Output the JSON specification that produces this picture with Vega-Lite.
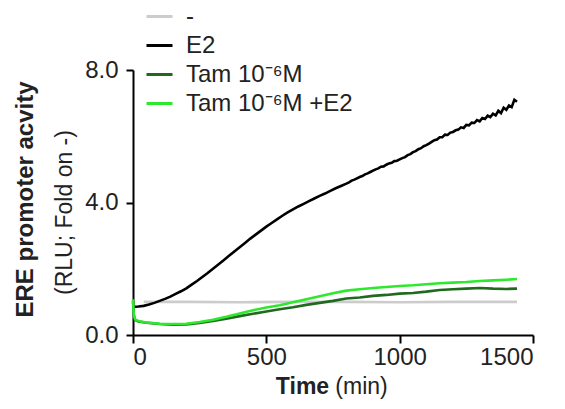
{
  "$schema": "https://vega.github.io/schema/vega-lite/v6.json",
  "width": 400,
  "height": 265,
  "autosize": {"type": "none"},
  "padding": {"left": 133, "top": 70, "right": 32, "bottom": 74},
  "config": {
    "font": "Liberation Sans",
    "view": {"stroke": null},
    "axis": {"grid": false}
  },
  "data": {
    "values": [
      {"s": "-", "t": 40, "v": 1.0}, {"s": "-", "t": 200, "v": 1.0}, {"s": "-", "t": 400, "v": 0.99}, {"s": "-", "t": 600, "v": 1.0}, {"s": "-", "t": 800, "v": 1.0}, {"s": "-", "t": 1000, "v": 0.99}, {"s": "-", "t": 1200, "v": 1.0}, {"s": "-", "t": 1440, "v": 1.0},
      {"s": "E2", "t": 0, "v": 0.85}, {"s": "E2", "t": 20, "v": 0.86}, {"s": "E2", "t": 40, "v": 0.88}, {"s": "E2", "t": 60, "v": 0.92}, {"s": "E2", "t": 80, "v": 0.97}, {"s": "E2", "t": 100, "v": 1.03}, {"s": "E2", "t": 120, "v": 1.09}, {"s": "E2", "t": 140, "v": 1.16}, {"s": "E2", "t": 160, "v": 1.24}, {"s": "E2", "t": 180, "v": 1.32}, {"s": "E2", "t": 200, "v": 1.41}, {"s": "E2", "t": 220, "v": 1.52}, {"s": "E2", "t": 240, "v": 1.63}, {"s": "E2", "t": 260, "v": 1.75}, {"s": "E2", "t": 280, "v": 1.87}, {"s": "E2", "t": 300, "v": 2.0}, {"s": "E2", "t": 320, "v": 2.13}, {"s": "E2", "t": 340, "v": 2.26}, {"s": "E2", "t": 360, "v": 2.39}, {"s": "E2", "t": 380, "v": 2.52}, {"s": "E2", "t": 400, "v": 2.65}, {"s": "E2", "t": 420, "v": 2.78}, {"s": "E2", "t": 440, "v": 2.91}, {"s": "E2", "t": 460, "v": 3.03}, {"s": "E2", "t": 480, "v": 3.15}, {"s": "E2", "t": 500, "v": 3.27}, {"s": "E2", "t": 520, "v": 3.38}, {"s": "E2", "t": 540, "v": 3.49}, {"s": "E2", "t": 560, "v": 3.6}, {"s": "E2", "t": 580, "v": 3.7}, {"s": "E2", "t": 600, "v": 3.79}, {"s": "E2", "t": 620, "v": 3.88}, {"s": "E2", "t": 640, "v": 3.96}, {"s": "E2", "t": 660, "v": 4.04}, {"s": "E2", "t": 680, "v": 4.12}, {"s": "E2", "t": 700, "v": 4.2}, {"s": "E2", "t": 720, "v": 4.27}, {"s": "E2", "t": 740, "v": 4.35}, {"s": "E2", "t": 760, "v": 4.43}, {"s": "E2", "t": 780, "v": 4.5},
      {"s": "E2", "t": 800, "v": 4.57}, {"s": "E2", "t": 810, "v": 4.61}, {"s": "E2", "t": 820, "v": 4.66}, {"s": "E2", "t": 830, "v": 4.69}, {"s": "E2", "t": 840, "v": 4.73}, {"s": "E2", "t": 850, "v": 4.77}, {"s": "E2", "t": 860, "v": 4.8}, {"s": "E2", "t": 870, "v": 4.85}, {"s": "E2", "t": 880, "v": 4.88}, {"s": "E2", "t": 890, "v": 4.92}, {"s": "E2", "t": 900, "v": 4.96}, {"s": "E2", "t": 910, "v": 5.0}, {"s": "E2", "t": 920, "v": 5.03}, {"s": "E2", "t": 930, "v": 5.08}, {"s": "E2", "t": 940, "v": 5.09}, {"s": "E2", "t": 950, "v": 5.14}, {"s": "E2", "t": 960, "v": 5.18}, {"s": "E2", "t": 970, "v": 5.2}, {"s": "E2", "t": 980, "v": 5.25}, {"s": "E2", "t": 990, "v": 5.26}, {"s": "E2", "t": 1000, "v": 5.3}, {"s": "E2", "t": 1010, "v": 5.34}, {"s": "E2", "t": 1020, "v": 5.37}, {"s": "E2", "t": 1030, "v": 5.43}, {"s": "E2", "t": 1040, "v": 5.46}, {"s": "E2", "t": 1050, "v": 5.52}, {"s": "E2", "t": 1060, "v": 5.55}, {"s": "E2", "t": 1070, "v": 5.61}, {"s": "E2", "t": 1080, "v": 5.64}, {"s": "E2", "t": 1090, "v": 5.7}, {"s": "E2", "t": 1100, "v": 5.73}, {"s": "E2", "t": 1110, "v": 5.78}, {"s": "E2", "t": 1120, "v": 5.83}, {"s": "E2", "t": 1130, "v": 5.88}, {"s": "E2", "t": 1140, "v": 5.9}, {"s": "E2", "t": 1150, "v": 5.97}, {"s": "E2", "t": 1160, "v": 5.97}, {"s": "E2", "t": 1170, "v": 6.05}, {"s": "E2", "t": 1180, "v": 6.04}, {"s": "E2", "t": 1190, "v": 6.11}, {"s": "E2", "t": 1200, "v": 6.13}, {"s": "E2", "t": 1210, "v": 6.18}, {"s": "E2", "t": 1220, "v": 6.2}, {"s": "E2", "t": 1230, "v": 6.27}, {"s": "E2", "t": 1240, "v": 6.25}, {"s": "E2", "t": 1250, "v": 6.34}, {"s": "E2", "t": 1260, "v": 6.33}, {"s": "E2", "t": 1270, "v": 6.41}, {"s": "E2", "t": 1280, "v": 6.4}, {"s": "E2", "t": 1290, "v": 6.49}, {"s": "E2", "t": 1300, "v": 6.45}, {"s": "E2", "t": 1310, "v": 6.55}, {"s": "E2", "t": 1320, "v": 6.52}, {"s": "E2", "t": 1330, "v": 6.62}, {"s": "E2", "t": 1340, "v": 6.58}, {"s": "E2", "t": 1350, "v": 6.68}, {"s": "E2", "t": 1360, "v": 6.63}, {"s": "E2", "t": 1370, "v": 6.77}, {"s": "E2", "t": 1380, "v": 6.7}, {"s": "E2", "t": 1390, "v": 6.86}, {"s": "E2", "t": 1400, "v": 6.8}, {"s": "E2", "t": 1410, "v": 6.93}, {"s": "E2", "t": 1420, "v": 6.88}, {"s": "E2", "t": 1430, "v": 7.1}, {"s": "E2", "t": 1440, "v": 7.04},
      {"s": "Tam 10⁻⁶M", "t": 0, "v": 1.02}, {"s": "Tam 10⁻⁶M", "t": 3, "v": 0.6}, {"s": "Tam 10⁻⁶M", "t": 8, "v": 0.45}, {"s": "Tam 10⁻⁶M", "t": 20, "v": 0.41}, {"s": "Tam 10⁻⁶M", "t": 50, "v": 0.37}, {"s": "Tam 10⁻⁶M", "t": 100, "v": 0.33}, {"s": "Tam 10⁻⁶M", "t": 150, "v": 0.31}, {"s": "Tam 10⁻⁶M", "t": 200, "v": 0.32}, {"s": "Tam 10⁻⁶M", "t": 250, "v": 0.36}, {"s": "Tam 10⁻⁶M", "t": 300, "v": 0.42}, {"s": "Tam 10⁻⁶M", "t": 350, "v": 0.49}, {"s": "Tam 10⁻⁶M", "t": 400, "v": 0.57}, {"s": "Tam 10⁻⁶M", "t": 450, "v": 0.64}, {"s": "Tam 10⁻⁶M", "t": 500, "v": 0.71}, {"s": "Tam 10⁻⁶M", "t": 550, "v": 0.78}, {"s": "Tam 10⁻⁶M", "t": 600, "v": 0.84}, {"s": "Tam 10⁻⁶M", "t": 650, "v": 0.91}, {"s": "Tam 10⁻⁶M", "t": 700, "v": 0.97}, {"s": "Tam 10⁻⁶M", "t": 750, "v": 1.03}, {"s": "Tam 10⁻⁶M", "t": 800, "v": 1.1}, {"s": "Tam 10⁻⁶M", "t": 850, "v": 1.13}, {"s": "Tam 10⁻⁶M", "t": 900, "v": 1.18}, {"s": "Tam 10⁻⁶M", "t": 950, "v": 1.21}, {"s": "Tam 10⁻⁶M", "t": 1000, "v": 1.25}, {"s": "Tam 10⁻⁶M", "t": 1050, "v": 1.27}, {"s": "Tam 10⁻⁶M", "t": 1100, "v": 1.31}, {"s": "Tam 10⁻⁶M", "t": 1150, "v": 1.36}, {"s": "Tam 10⁻⁶M", "t": 1200, "v": 1.38}, {"s": "Tam 10⁻⁶M", "t": 1250, "v": 1.4}, {"s": "Tam 10⁻⁶M", "t": 1300, "v": 1.42}, {"s": "Tam 10⁻⁶M", "t": 1350, "v": 1.4}, {"s": "Tam 10⁻⁶M", "t": 1400, "v": 1.39}, {"s": "Tam 10⁻⁶M", "t": 1440, "v": 1.4},
      {"s": "Tam 10⁻⁶M +E2", "t": 0, "v": 1.08}, {"s": "Tam 10⁻⁶M +E2", "t": 3, "v": 0.6}, {"s": "Tam 10⁻⁶M +E2", "t": 8, "v": 0.47}, {"s": "Tam 10⁻⁶M +E2", "t": 20, "v": 0.42}, {"s": "Tam 10⁻⁶M +E2", "t": 50, "v": 0.38}, {"s": "Tam 10⁻⁶M +E2", "t": 100, "v": 0.34}, {"s": "Tam 10⁻⁶M +E2", "t": 150, "v": 0.33}, {"s": "Tam 10⁻⁶M +E2", "t": 200, "v": 0.34}, {"s": "Tam 10⁻⁶M +E2", "t": 250, "v": 0.39}, {"s": "Tam 10⁻⁶M +E2", "t": 300, "v": 0.46}, {"s": "Tam 10⁻⁶M +E2", "t": 350, "v": 0.55}, {"s": "Tam 10⁻⁶M +E2", "t": 400, "v": 0.65}, {"s": "Tam 10⁻⁶M +E2", "t": 450, "v": 0.75}, {"s": "Tam 10⁻⁶M +E2", "t": 500, "v": 0.83}, {"s": "Tam 10⁻⁶M +E2", "t": 550, "v": 0.9}, {"s": "Tam 10⁻⁶M +E2", "t": 600, "v": 0.99}, {"s": "Tam 10⁻⁶M +E2", "t": 650, "v": 1.08}, {"s": "Tam 10⁻⁶M +E2", "t": 700, "v": 1.17}, {"s": "Tam 10⁻⁶M +E2", "t": 750, "v": 1.26}, {"s": "Tam 10⁻⁶M +E2", "t": 800, "v": 1.34}, {"s": "Tam 10⁻⁶M +E2", "t": 850, "v": 1.38}, {"s": "Tam 10⁻⁶M +E2", "t": 900, "v": 1.42}, {"s": "Tam 10⁻⁶M +E2", "t": 950, "v": 1.45}, {"s": "Tam 10⁻⁶M +E2", "t": 1000, "v": 1.48}, {"s": "Tam 10⁻⁶M +E2", "t": 1050, "v": 1.5}, {"s": "Tam 10⁻⁶M +E2", "t": 1100, "v": 1.53}, {"s": "Tam 10⁻⁶M +E2", "t": 1150, "v": 1.56}, {"s": "Tam 10⁻⁶M +E2", "t": 1200, "v": 1.58}, {"s": "Tam 10⁻⁶M +E2", "t": 1250, "v": 1.6}, {"s": "Tam 10⁻⁶M +E2", "t": 1300, "v": 1.63}, {"s": "Tam 10⁻⁶M +E2", "t": 1350, "v": 1.65}, {"s": "Tam 10⁻⁶M +E2", "t": 1400, "v": 1.67}, {"s": "Tam 10⁻⁶M +E2", "t": 1440, "v": 1.69}
    ]
  },
  "layer": [
    {
      "mark": {"type": "line", "strokeWidth": 2.6, "clip": false},
      "encoding": {
        "x": {
          "field": "t", "type": "quantitative",
          "scale": {"domain": [0, 1500], "nice": false},
          "axis": {
            "orient": "bottom", "values": [0, 500, 1000, 1500], "format": "d",
            "domainColor": "#000", "domainWidth": 2, "tickColor": "#000", "tickWidth": 2, "tickSize": 8,
            "labelFontSize": 24, "labelColor": "#222", "labelPadding": 2,
            "title": "(min)", "titleFontSize": 23, "titleFontWeight": "normal", "titleColor": "#222",
            "titleX": 228, "titleY": 51, "titleAlign": "center", "titleBaseline": "middle"
          }
        },
        "y": {
          "field": "v", "type": "quantitative",
          "scale": {"domain": [0, 8], "nice": false},
          "axis": {
            "orient": "left", "values": [0, 4, 8], "format": ".1f",
            "domainColor": "#000", "domainWidth": 2, "tickColor": "#000", "tickWidth": 2, "tickSize": 7,
            "labelFontSize": 24, "labelColor": "#222", "labelPadding": 8,
            "title": "(RLU; Fold on -)", "titleFontSize": 23, "titleFontWeight": "normal", "titleColor": "#222",
            "titleAngle": -90, "titleX": -69, "titleY": 142, "titleAlign": "center", "titleBaseline": "middle"
          }
        },
        "color": {
          "field": "s", "type": "nominal",
          "scale": {
            "domain": ["-", "E2", "Tam 10⁻⁶M", "Tam 10⁻⁶M +E2"],
            "range": ["#cccccc", "#000000", "#1f6a1f", "#2ee82e"]
          },
          "legend": {
            "title": null, "orient": "none", "legendX": 12, "legendY": -68, "padding": 0,
            "symbolType": "stroke", "symbolStrokeWidth": 3, "symbolSize": 676,
            "labelFontSize": 24, "labelColor": "#222", "labelOffset": 12, "rowPadding": 2, "labelLimit": 400
          }
        }
      }
    },
    {
      "mark": {"type": "point", "opacity": 0},
      "encoding": {
        "x": {
          "field": "t", "type": "quantitative",
          "scale": {"domain": [0, 1500], "nice": false},
          "axis": {
            "orient": "bottom", "domain": false, "ticks": false, "labels": false,
            "title": "Time", "titleFontSize": 23, "titleFontWeight": "bold", "titleColor": "#222",
            "titleX": 169, "titleY": 51, "titleAlign": "center", "titleBaseline": "middle"
          }
        },
        "y": {
          "field": "v", "type": "quantitative",
          "scale": {"domain": [0, 8], "nice": false},
          "axis": {
            "orient": "left", "domain": false, "ticks": false, "labels": false,
            "title": "ERE promoter acvity", "titleFontSize": 24, "titleFontWeight": "bold", "titleColor": "#222",
            "titleAngle": -90, "titleX": -108, "titleY": 129, "titleAlign": "center", "titleBaseline": "middle"
          }
        }
      }
    }
  ],
  "resolve": {"scale": {"x": "independent", "y": "independent"}}
}
